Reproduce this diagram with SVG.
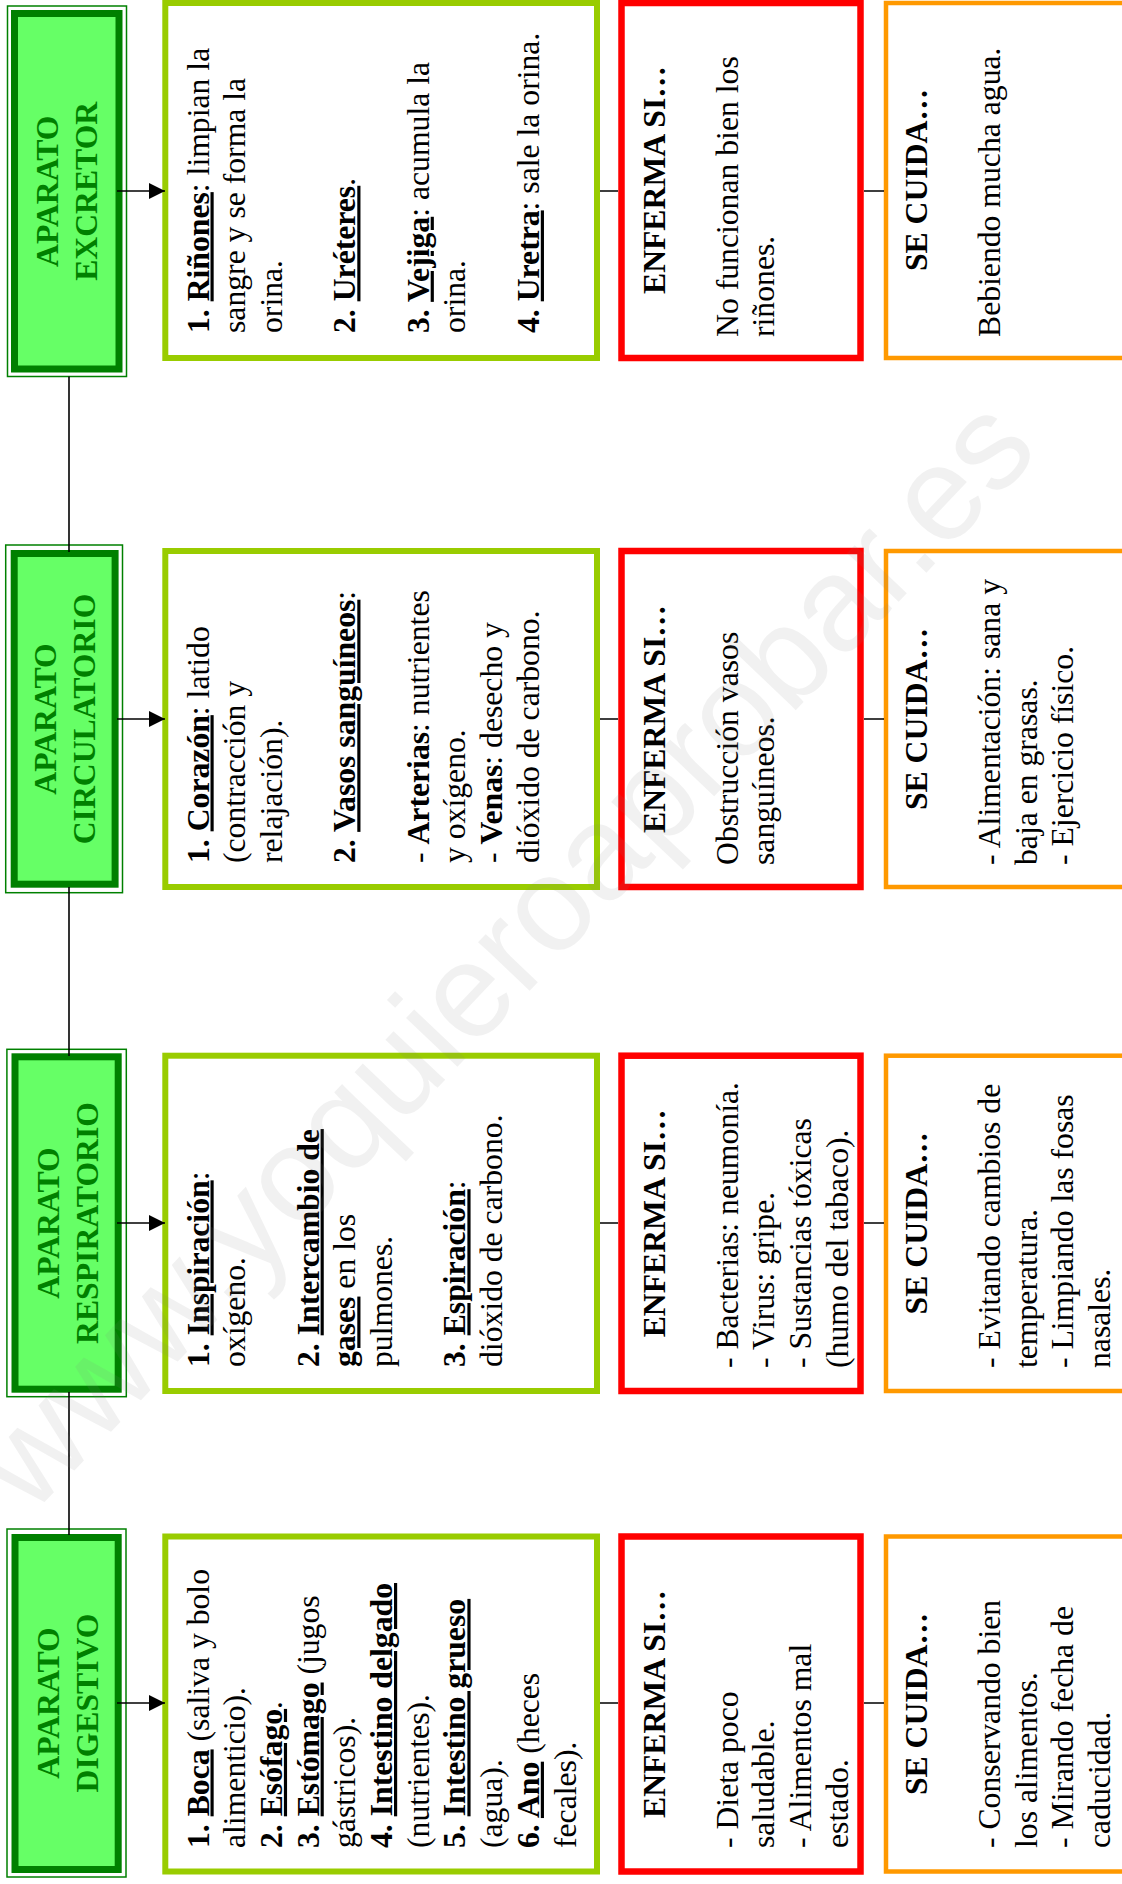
<svg xmlns="http://www.w3.org/2000/svg" width="1122" height="1884" viewBox="0 0 1122 1884">
<defs>
<style>
  .t { font-family: "Liberation Serif", "Times New Roman", serif; font-size: 31.7px; fill: #000; }
  .b { font-weight: bold; }
  .u { text-decoration: underline; }
  .c { text-anchor: middle; }
  .hd { font-family: "Liberation Serif", "Times New Roman", serif; font-size: 31.7px; font-weight: bold; fill: #008000; text-anchor: middle; }
  .ho { fill: #fff; stroke: #008000; stroke-width: 1.5; }
  .hi { fill: #66ff66; stroke: #008000; stroke-width: 7; }
  .gb { fill: #fff; stroke: #99cc00; stroke-width: 6; }
  .rb { fill: #fff; stroke: #ff0000; stroke-width: 6.5; }
  .ob { fill: #fff; stroke: #ff9900; stroke-width: 4.5; }
  .ln { stroke: #000; stroke-width: 1.6; fill: none; }
  .wm { font-family: "Liberation Sans", Arial, sans-serif; font-size: 134px; fill: #808080; fill-opacity: 0.11; text-anchor: middle; }
</style>
<marker id="ah" markerUnits="userSpaceOnUse" markerWidth="16" markerHeight="16" refX="16" refY="8" orient="auto">
  <path d="M0,0 L16,8 L0,16 Z" fill="#000"/>
</marker>
</defs>

<rect width="1122" height="1884" fill="#fff"/>

<!-- ===== Row 1: aparato excretor ===== -->
<g id="excretor">
  <rect class="ho" x="7.5" y="6" width="119" height="370.5"/>
  <rect class="hi" x="14.5" y="13.5" width="104.5" height="355.5"/>
  <g transform="translate(0 191.3) rotate(-90)">
    <text class="hd" y="58">APARATO</text>
    <text class="hd" y="96.5">EXCRETOR</text>
  </g>
</g>
<g id="excretor-partes">
  <rect class="gb" x="165.3" y="3" width="431.7" height="355"/>
  <g class="t" transform="translate(0 333) rotate(-90)">
    <text y="208.5"><tspan class="b">1. </tspan><tspan class="b u">Riñones</tspan>: limpian la</text>
    <text y="245.2">sangre y se forma la</text>
    <text y="281.9">orina.</text>
    <text y="355.3"><tspan class="b">2. </tspan><tspan class="b u">Uréteres</tspan>.</text>
    <text y="428.7"><tspan class="b">3. </tspan><tspan class="b u">Vejiga</tspan>: acumula la</text>
    <text y="465.4">orina.</text>
    <text y="538.8"><tspan class="b">4. </tspan><tspan class="b u">Uretra</tspan>: sale la orina.</text>
  </g>
</g>
<g id="excretor-enferma">
  <rect class="rb" x="621.5" y="3" width="239" height="355"/>
  <g class="t" transform="translate(0 180) rotate(-90)">
    <text class="b c" y="665">ENFERMA SI…</text>
  </g>
  <g class="t" transform="translate(0 337) rotate(-90)">
    <text y="737.5">No funcionan bien los</text>
    <text y="774.2">riñones.</text>
  </g>
</g>
<g id="excretor-cuida">
  <rect class="ob" x="886" y="3" width="300" height="355"/>
  <g class="t" transform="translate(0 180) rotate(-90)">
    <text class="b c" y="927">SE CUIDA…</text>
  </g>
  <g class="t" transform="translate(0 337) rotate(-90)">
    <text y="1000">Bebiendo mucha agua.</text>
  </g>
</g>

<!-- ===== Row 2: aparato circulatorio ===== -->
<g id="circulatorio">
  <rect class="ho" x="5.7" y="545" width="116.8" height="347.7"/>
  <rect class="hi" x="14.2" y="553.5" width="100.9" height="330.7"/>
  <g transform="translate(0 719) rotate(-90)">
    <text class="hd" y="56">APARATO</text>
    <text class="hd" y="94.5">CIRCULATORIO</text>
  </g>
</g>
<g id="circulatorio-partes">
  <rect class="gb" x="165.3" y="551" width="431.7" height="336"/>
  <g class="t" transform="translate(0 863) rotate(-90)">
    <text y="208.5"><tspan class="b">1. </tspan><tspan class="b u">Corazón</tspan>: latido</text>
    <text y="245.2">(contracción y</text>
    <text y="281.9">relajación).</text>
    <text y="355.3"><tspan class="b">2. </tspan><tspan class="b u">Vasos sanguíneos</tspan>:</text>
    <text y="428.7">- <tspan class="b">Arterias</tspan>: nutrientes</text>
    <text y="465.4">y oxígeno.</text>
    <text y="502.1">- <tspan class="b">Venas</tspan>: desecho y</text>
    <text y="538.8">dióxido de carbono.</text>
  </g>
</g>
<g id="circulatorio-enferma">
  <rect class="rb" x="621.5" y="551" width="239" height="336"/>
  <g class="t" transform="translate(0 719) rotate(-90)">
    <text class="b c" y="665">ENFERMA SI…</text>
  </g>
  <g class="t" transform="translate(0 865) rotate(-90)">
    <text y="737.5">Obstrucción vasos</text>
    <text y="774.2">sanguíneos.</text>
  </g>
</g>
<g id="circulatorio-cuida">
  <rect class="ob" x="886" y="551" width="300" height="336"/>
  <g class="t" transform="translate(0 719) rotate(-90)">
    <text class="b c" y="927">SE CUIDA…</text>
  </g>
  <g class="t" transform="translate(0 865) rotate(-90)">
    <text y="1000">- Alimentación: sana y</text>
    <text y="1036.7">baja en grasas.</text>
    <text y="1073.4">- Ejercicio físico.</text>
  </g>
</g>

<!-- ===== Row 3: aparato respiratorio ===== -->
<g id="respiratorio">
  <rect class="ho" x="6.9" y="1049.3" width="119.4" height="347.4"/>
  <rect class="hi" x="15" y="1056.8" width="103.2" height="332.4"/>
  <g transform="translate(0 1223) rotate(-90)">
    <text class="hd" y="59">APARATO</text>
    <text class="hd" y="97.5">RESPIRATORIO</text>
  </g>
</g>
<g id="respiratorio-partes">
  <rect class="gb" x="165.3" y="1055.7" width="431.7" height="335.3"/>
  <g class="t" transform="translate(0 1367) rotate(-90)">
    <text y="208.5"><tspan class="b">1. </tspan><tspan class="b u">Inspiración</tspan>:</text>
    <text y="245.2">oxígeno.</text>
    <text y="318.6"><tspan class="b">2. </tspan><tspan class="b u">Intercambio de</tspan></text>
    <text y="355.3"><tspan class="b u">gases</tspan> en los</text>
    <text y="392">pulmones.</text>
    <text y="465.4"><tspan class="b">3. </tspan><tspan class="b u">Espiración</tspan>:</text>
    <text y="502.1">dióxido de carbono.</text>
  </g>
</g>
<g id="respiratorio-enferma">
  <rect class="rb" x="621.5" y="1055.7" width="239" height="335.3"/>
  <g class="t" transform="translate(0 1223.3) rotate(-90)">
    <text class="b c" y="665">ENFERMA SI…</text>
  </g>
  <g class="t" transform="translate(0 1368) rotate(-90)">
    <text y="737.5">- Bacterias: neumonía.</text>
    <text y="774.2">- Virus: gripe.</text>
    <text y="810.9">- Sustancias tóxicas</text>
    <text y="847.6">(humo del tabaco).</text>
  </g>
</g>
<g id="respiratorio-cuida">
  <rect class="ob" x="886" y="1055.7" width="300" height="335.3"/>
  <g class="t" transform="translate(0 1223.3) rotate(-90)">
    <text class="b c" y="927">SE CUIDA…</text>
  </g>
  <g class="t" transform="translate(0 1368) rotate(-90)">
    <text y="1000">- Evitando cambios de</text>
    <text y="1036.7">temperatura.</text>
    <text y="1073.4">- Limpiando las fosas</text>
    <text y="1110.1">nasales.</text>
  </g>
</g>

<!-- ===== Row 4: aparato digestivo ===== -->
<g id="digestivo">
  <rect class="ho" x="7" y="1529" width="119" height="348"/>
  <rect class="hi" x="15" y="1537.5" width="103.2" height="332"/>
  <g transform="translate(0 1703) rotate(-90)">
    <text class="hd" y="59">APARATO</text>
    <text class="hd" y="97.5">DIGESTIVO</text>
  </g>
</g>
<g id="digestivo-partes">
  <rect class="gb" x="165.3" y="1536.5" width="431.7" height="335"/>
  <g class="t" transform="translate(0 1848) rotate(-90)">
    <text y="208.5"><tspan class="b">1. </tspan><tspan class="b u">Boca</tspan> (saliva y bolo</text>
    <text y="245.2">alimenticio).</text>
    <text y="281.9"><tspan class="b">2. </tspan><tspan class="b u">Esófago</tspan>.</text>
    <text y="318.6"><tspan class="b">3. </tspan><tspan class="b u">Estómago</tspan> (jugos</text>
    <text y="355.3">gástricos).</text>
    <text y="392"><tspan class="b">4. </tspan><tspan class="b u">Intestino delgado</tspan></text>
    <text y="428.7">(nutrientes).</text>
    <text y="465.4"><tspan class="b">5. </tspan><tspan class="b u">Intestino grueso</tspan></text>
    <text y="502.1">(agua).</text>
    <text y="538.8"><tspan class="b">6. </tspan><tspan class="b u">Ano</tspan> (heces</text>
    <text y="575.5">fecales).</text>
  </g>
</g>
<g id="digestivo-enferma">
  <rect class="rb" x="621.5" y="1536.5" width="239" height="335"/>
  <g class="t" transform="translate(0 1704) rotate(-90)">
    <text class="b c" y="665">ENFERMA SI…</text>
  </g>
  <g class="t" transform="translate(0 1848) rotate(-90)">
    <text y="737.5">- Dieta poco</text>
    <text y="774.2">saludable.</text>
    <text y="810.9">- Alimentos mal</text>
    <text y="847.6">estado.</text>
  </g>
</g>
<g id="digestivo-cuida">
  <rect class="ob" x="886" y="1536.5" width="300" height="335"/>
  <g class="t" transform="translate(0 1704) rotate(-90)">
    <text class="b c" y="927">SE CUIDA…</text>
  </g>
  <g class="t" transform="translate(0 1848) rotate(-90)">
    <text y="1000">- Conservando bien</text>
    <text y="1036.7">los alimentos.</text>
    <text y="1073.4">- Mirando fecha de</text>
    <text y="1110.1">caducidad.</text>
  </g>
</g>

<!-- ===== connectors ===== -->
<g id="connectors" class="ln">
  <path d="M69 376.5 V552"/>
  <path d="M69 887 V1056"/>
  <path d="M69 1392 V1535"/>
  <path d="M117 191 H165" marker-end="url(#ah)"/>
  <path d="M117 719 H165" marker-end="url(#ah)"/>
  <path d="M117 1223 H165" marker-end="url(#ah)"/>
  <path d="M117 1703 H165" marker-end="url(#ah)"/>
  <path d="M600 191 H618 M864 191 H884"/>
  <path d="M600 719 H618 M864 719 H884"/>
  <path d="M600 1223 H618 M864 1223 H884"/>
  <path d="M600 1703 H618 M864 1703 H884"/>
</g>

<!-- faint diagonal site mark -->
<text class="wm" transform="translate(536 984) rotate(-46.5)">www.yoquieroaprobar.es</text>
</svg>
